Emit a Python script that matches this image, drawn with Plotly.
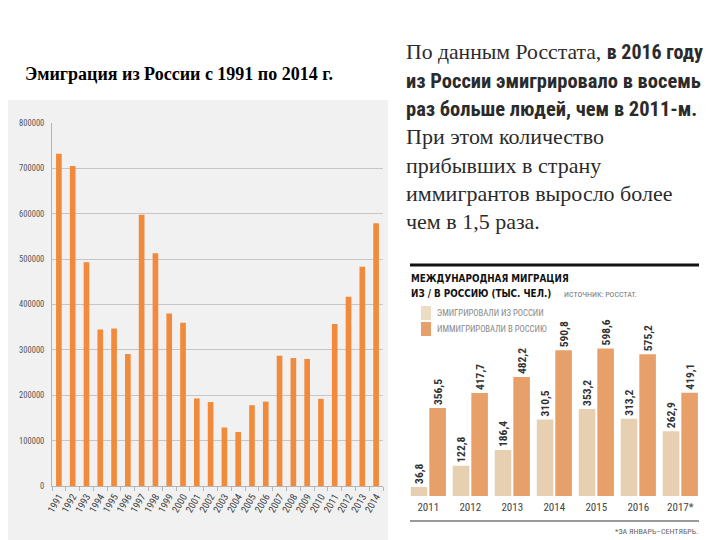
import plotly.graph_objects as go

# ---- Left chart data ----
years = [str(y) for y in range(1991, 2015)]
emigration = [732000, 705000, 493000, 345000, 347000, 291000, 598000, 513000, 380000, 360000,
              193000, 185000, 129000, 119000, 178000, 186000, 287000, 282000, 280000, 192000,
              357000, 417000, 483000, 579000]
left_yticks = [0, 100000, 200000, 300000, 400000, 500000, 600000, 700000, 800000]

# ---- Right chart data ----
r_years = ['2011', '2012', '2013', '2014', '2015', '2016', '2017*']
emigrated = [36.8, 122.8, 186.4, 310.5, 353.2, 313.2, 262.9]
immigrated = [356.5, 417.7, 482.2, 590.8, 598.6, 575.2, 419.1]

# page body has an 8px margin; figure drawn so that it lands on the 720x540 window
OFF = 8
W, H = 720 - OFF, 540 - OFF
def px(x): return (x - OFF) / W
def py(y): return 1 - (y - OFF) / H

NARROW = "Roboto Condensed, DejaVu Sans Condensed, sans-serif"
SERIF = "Liberation Serif, Times New Roman, serif"

fig = go.Figure()

fig.add_trace(go.Bar(x=years, y=emigration, marker=dict(color='#f18a3b', line=dict(width=0)),
                     xaxis='x', yaxis='y', showlegend=False))

def fmt(v):
    return f"{v:.1f}".replace('.', ',')

fig.add_trace(go.Bar(x=r_years, y=emigrated, marker=dict(color='#e6d0b1', line=dict(width=0)),
                     text=[fmt(v) for v in emigrated], textposition='outside', textangle=-90,
                     textfont=dict(family=NARROW, size=11.5, color='#333333', weight='bold'),
                     constraintext='none', cliponaxis=False,
                     xaxis='x2', yaxis='y2', showlegend=False))
fig.add_trace(go.Bar(x=r_years, y=immigrated, marker=dict(color='#e8a06a', line=dict(width=0)),
                     text=[fmt(v) for v in immigrated], textposition='outside', textangle=-90,
                     textfont=dict(family=NARROW, size=11.5, color='#333333', weight='bold'),
                     constraintext='none', cliponaxis=False,
                     xaxis='x2', yaxis='y2', showlegend=False))

shapes = [
    dict(type='rect', xref='paper', yref='paper', x0=px(0), x1=px(388), y0=py(545), y1=py(100),
         fillcolor='#f1f1f1', line=dict(width=0), layer='below'),
    dict(type='line', xref='paper', yref='paper', x0=px(410), x1=px(699), y0=py(265), y1=py(265),
         line=dict(color='#111111', width=3)),
    dict(type='line', xref='paper', yref='paper', x0=px(410), x1=px(699), y0=py(521), y1=py(521),
         line=dict(color='#777777', width=1.5)),
    dict(type='rect', xref='paper', yref='paper', x0=px(421), x1=px(431), y0=py(320), y1=py(306),
         fillcolor='#ecdcc4', line=dict(width=0)),
    dict(type='rect', xref='paper', yref='paper', x0=px(421), x1=px(431), y0=py(336), y1=py(322),
         fillcolor='#e8a06a', line=dict(width=0)),
]

def A(text, x, y, xanchor='left', **font):
    return dict(text=text, x=px(x), y=py(y), xref='paper', yref='paper', xanchor=xanchor,
                yanchor='middle', showarrow=False, font=font)

ann = []
ann.append(A('<b>Эмиграция из России с 1991 по 2014 г.</b>', 23, 74,
             family=SERIF, size=18, color='#000000'))

big_lines = [
    (f'По данным Росстата, <span style="font-family:{NARROW};font-size:20px"><b>в 2016 году</b></span>', SERIF, 21.7, 52),
    ('<b>из России эмигрировало в восемь</b>', NARROW, 20.5, 81),
    ('<b>раз больше людей, чем в 2011-м.</b>', NARROW, 20.5, 109),
    ('При этом количество', SERIF, 22, 137),
    ('прибывших в страну', SERIF, 22, 165),
    ('иммигрантов выросло более', SERIF, 22, 193),
    ('чем в 1,5 раза.', SERIF, 22, 222),
]
for t, f, s, yy in big_lines:
    ann.append(A(t, 404, yy, family=f, size=s, color='#2b2b2b'))

ann += [
    A('<b>МЕЖДУНАРОДНАЯ МИГРАЦИЯ</b>', 409, 278, family='DejaVu Sans Condensed, sans-serif', size=9.8, color='#111111'),
    A('<b>ИЗ / В РОССИЮ (ТЫС. ЧЕЛ.)</b>', 409, 293, family='DejaVu Sans Condensed, sans-serif', size=9.8, color='#111111'),
    A('ИСТОЧНИК: РОССТАТ.', 562, 294, family=NARROW, size=8, color='#777777'),
    A('ЭМИГРИРОВАЛИ ИЗ РОССИИ', 435, 313, family=NARROW, size=8.7, color='#888888'),
    A('ИММИГРИРОВАЛИ В РОССИЮ', 435, 329, family=NARROW, size=8.7, color='#888888'),
    A('*ЗА ЯНВАРЬ–СЕНТЯБРЬ.', 700, 531, xanchor='right', family=NARROW, size=8, color='#666666'),
]

fig.update_layout(
    width=W, height=H, margin=dict(l=0, r=0, t=0, b=0, autoexpand=False),
    paper_bgcolor='white', plot_bgcolor='rgba(0,0,0,0)',
    barmode='group', bargap=0.59,
    shapes=shapes, annotations=ann,
    xaxis=dict(domain=[px(52), px(383)], type='category', range=[-0.5, 23.5], automargin=False,
               tickangle=-60, tickfont=dict(family=NARROW, size=10, color='#444444'),
               showline=True, linecolor='#b5b5b5', linewidth=1, ticks='outside', tickson='boundaries',
               ticklen=4, tickcolor='#b5b5b5', showgrid=False, fixedrange=True),
    yaxis=dict(domain=[py(486), py(123)], range=[0, 800000], tickvals=left_yticks, automargin=False,
               tickformat='d', tickfont=dict(family=NARROW, size=8.5, color='#555555'),
               showgrid=True, gridcolor='#c6c6c6', gridwidth=1, zeroline=False,
               showline=True, linecolor='#b5b5b5', linewidth=1, ticks='', ticklabelstandoff=5),
    xaxis2=dict(domain=[px(407.3), px(701.3)], type='category', range=[-0.5, 6.5], anchor='y2',
                automargin=False,
                tickfont=dict(family=NARROW, size=11, color='#444444'), showline=False, ticks='',
                showgrid=False, ticklabelstandoff=3),
    yaxis2=dict(domain=[py(496), py(300)], range=[0, 795], anchor='x2', visible=False, showgrid=False,
                automargin=False),
)
for tr in fig.data[1:]:
    tr.width = 0.395
fig.data[1].offset = -0.418
fig.data[2].offset = 0.024

fig.write_html("out.html")
